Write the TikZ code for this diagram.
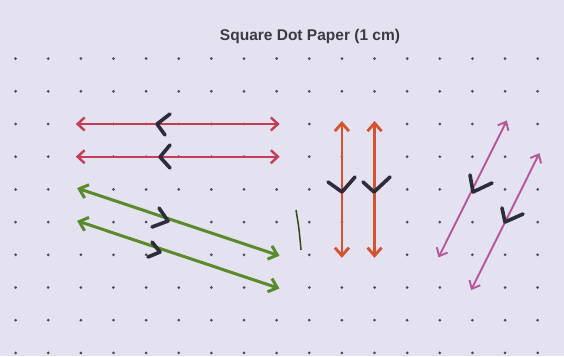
\documentclass[tikz,border=0pt]{standalone}
\usepackage{fontspec}
\setmainfont{Liberation Sans}
\usepackage{tikz}
\usetikzlibrary{arrows.meta}
\definecolor{paperlilac}{HTML}{E4E1F0}
\definecolor{dotgray}{HTML}{4A4A5C}
\definecolor{inkred}{HTML}{C43C56}
\definecolor{inkgreen}{HTML}{5A8A2A}
\definecolor{inkorange}{HTML}{D5522E}
\definecolor{inkpink}{HTML}{B7579C}
\definecolor{inkblack}{HTML}{2C2C3A}
\definecolor{titlegray}{HTML}{3A3A44}

\begin{document}
\begin{tikzpicture}[x=1pt, y=-1pt,
  redvec/.style={draw=inkred, line width=2.4pt,
    {Straight Barb[length=7pt,width=13pt]}-{Straight Barb[length=7pt,width=13pt]},
    shorten <=-5pt, shorten >=-3pt},
  greenvec/.style={draw=inkgreen, line width=3pt,
    {Straight Barb[length=8pt,width=14pt]}-{Straight Barb[length=8pt,width=14pt]},
    shorten <=-4pt, shorten >=-3pt},
  orangevec/.style={draw=inkorange, line width=2.8pt,
    {Straight Barb[length=8pt,width=14pt]}-{Straight Barb[length=8pt,width=14pt]},
    shorten <=-3pt, shorten >=-3pt},
  pinkvec/.style={draw=inkpink, line width=1.9pt,
    {Straight Barb[length=7pt,width=12pt]}-{Straight Barb[length=7pt,width=12pt]},
    shorten <=-3pt, shorten >=-4pt},
  chevron/.style={draw=inkblack, line width=3.6pt, line cap=round, line join=round}]

  % Paper
  \fill[paperlilac] (0,0) rectangle (564,356);
  \useasboundingbox (0,0) rectangle (564,356);

  % Dot grid (every dot is named d-column-row)
  \foreach \i in {0,...,16} {
    \foreach \j in {0,...,9} {
      \coordinate (d-\i-\j) at ({15.6+32.63*\i}, {58.6+32.7*\j});
      \fill[dotgray] (d-\i-\j) circle (1.5);
    }
  }

  % Title
  \node[font=\bfseries\fontsize{15.5}{18}\selectfont, text=titlegray] (title) at (310,36) {Square Dot Paper (1 cm)};

  % Red horizontal vectors
  \draw[redvec] (d-2-2) -- (d-8-2);
  \draw[redvec] (d-2-3) -- (d-8-3);

  % Green sloping vectors
  \draw[greenvec] (d-2-4) -- (d-8-6);
  \draw[greenvec] (d-2-5) -- (d-8-7);
  \draw[line width=1.5pt, color=inkgreen!55!black] (296,210) .. controls (299,228) .. (301,250);

  % Orange vertical vectors
  \draw[orangevec] (d-10-2) -- (d-10-6);
  \draw[orangevec] (d-11-2) -- (d-11-6);

  % Pink sloping vectors
  \draw[pinkvec] (d-13-6) -- (d-15-2);
  \draw[pinkvec] (d-14-7) -- (d-16-3);

  % Direction marks
  \draw[chevron] (170,114) -- (157,124) -- (165,135);
  \draw[chevron] (170,145) -- (160,157) -- (170,168);
  \draw[chevron] (159,208) -- (168,221) -- (152,227);
  \draw[chevron] (152,242) -- (160,252) -- (148,257);
  \draw[chevron] (328,182) -- (342,192) -- (355,177);
  \draw[chevron] (363,182) -- (374,192) -- (390,177);
  \draw[chevron] (470,175) -- (473,192) -- (492,183);
  \draw[chevron] (502,208) -- (505,222) -- (523,214);
\end{tikzpicture}
\end{document}
